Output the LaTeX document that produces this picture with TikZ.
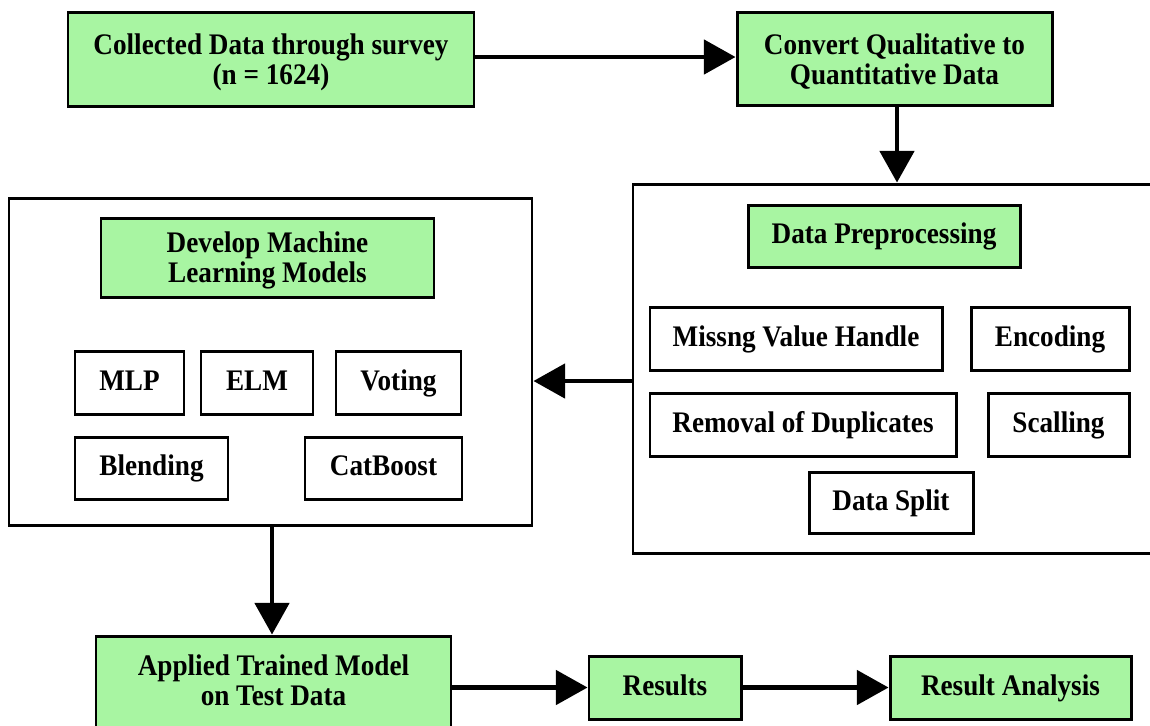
\documentclass[tikz,border=0pt]{standalone}
\usepackage{fontspec}
\setmainfont{Liberation Serif}[FakeStretch=0.91]
\usetikzlibrary{arrows.meta}
\definecolor{boxgreen}{RGB}{168,245,162}
\newcommand\myTopStrut{\rule{0pt}{15.2pt}}
\begin{document}
\begin{tikzpicture}[x=0.02cm,y=-0.02cm,
  base/.style={draw=black, line width=1.7pt, inner sep=0pt, align=center,
    font=\fontsize{17}{17}\selectfont\bfseries, text=black},
  sz/.style 2 args={minimum width=#1*0.02cm, minimum height=#2*0.02cm},
  oneline/.style={text height=12.75pt, text depth=3.7pt},
  greenbox/.style={base, fill=boxgreen},
  whitebox/.style={base, fill=white},
  plaintext/.style={inner sep=0pt, align=center, font=\fontsize{17}{17}\selectfont\bfseries, text=black},
  conn/.style={line width=2.3pt, -{Triangle[length=18pt,width=19.5pt]}}]
\useasboundingbox (0,0) rectangle (1150,725);
\clip (0,0) rectangle (1150,725);
\fill[white] (0,0) rectangle (1150,725);

% top row
\node[greenbox, sz={406}{94}] (collect) at (271,59) {\myTopStrut Collected Data through survey\\(n = 1624)};
\node[greenbox, sz={315}{93}] (convert) at (894.5,58.5) {\myTopStrut Convert Qualitative to\\Quantitative Data};

% preprocessing container
\node[whitebox, sz={532}{369}] (prepbox) at (899,368.5) {};
\node[greenbox, oneline, sz={272}{62}] (dp) at (884,236) {Data Preprocessing};
\node[whitebox, oneline, sz={292}{63}] (mvh) at (796,338.5) {Missng Value Handle};
\node[whitebox, oneline, sz={158}{63}] (enc) at (1050,338.5) {Encoding};
\node[whitebox, oneline, sz={306}{63}] (rod) at (803,424.5) {Removal of Duplicates};
\node[whitebox, oneline, sz={141}{63}] (scal) at (1058.5,424.5) {Scalling};
\node[whitebox, oneline, sz={164}{61}] (split) at (891,502.5) {Data Split};

% model container
\node[whitebox, sz={523}{327}] (mlbox) at (270.5,361.5) {};
\node[greenbox, sz={333}{79}] (dml) at (267.5,257.5) {\myTopStrut Develop Machine\\Learning Models};
\node[whitebox, oneline, sz={109}{63}] (mlp) at (129.5,382.5) {MLP};
\node[whitebox, oneline, sz={112}{63}] (elm) at (257,382.5) {ELM};
\node[whitebox, oneline, sz={125}{63}] (voting) at (398.5,382.5) {Voting};
\node[whitebox, oneline, sz={153}{62}] (blend) at (151.5,468) {Blending};
\node[whitebox, oneline, sz={157}{62}] (cat) at (383.5,468) {CatBoost};

% bottom row
\node[greenbox, sz={355}{110}] (applied) at (273.5,691) {};
\node[plaintext] (appliedtext) at (273.5,680) {Applied Trained Model\\on Test Data};
\node[greenbox, oneline, sz={152}{63}] (results) at (665,687.5) {Results};
\node[greenbox, oneline, sz={241}{63}] (ra) at (1010.5,687.5) {Result Analysis};

% connectors
\coordinate (midy) at (0,381);
\coordinate (downx) at (897,0);
\coordinate (leftx) at (272,0);
\draw[conn] (collect.east |- 0,57) -- (convert.west |- 0,57);
\draw[conn] (downx |- convert.south) -- (downx |- prepbox.north);
\draw[conn] (prepbox.west |- midy) -- (mlbox.east |- midy);
\draw[conn] (leftx |- mlbox.south) -- (leftx |- applied.north);
\draw[conn] (applied.east |- results.west) -- (results.west);
\draw[conn] (results.east) -- (ra.west);
\end{tikzpicture}
\end{document}
